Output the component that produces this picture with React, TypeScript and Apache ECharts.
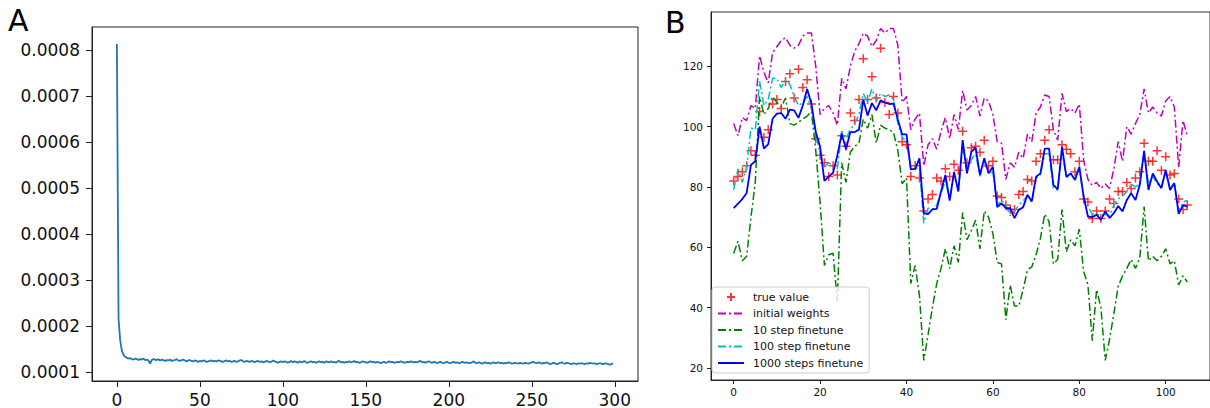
import React, { useEffect, useRef } from "react";
import * as echarts from "echarts";

// Panel A: training loss, in units of 1e-6
const lossMicro = [
  813, 215, 168, 146, 137, 133, 131, 129, 130, 128,
  127, 129, 128, 126, 128, 127, 129, 126, 127, 125,
  118, 126, 128, 127, 126, 128, 125, 127, 126, 124,
  126, 125, 127, 124, 125, 126, 128, 125, 124, 126,
  127, 125, 123, 125, 126, 124, 123, 125, 124, 122,
  124, 123, 125, 124, 122, 123, 124, 125, 123, 124,
  123, 125, 124, 123, 122, 124, 125, 123, 124, 122,
  123, 124, 122, 123, 125, 126, 123, 122, 124, 123,
  122, 124, 123, 121, 123, 124, 122, 123, 121, 122,
  124, 123, 121, 122, 125, 123, 122, 120, 122, 123,
  121, 123, 122, 120, 122, 124, 121, 123, 122, 120,
  123, 121, 122, 124, 121, 120, 122, 123, 121, 122,
  120, 122, 123, 121, 122, 120, 123, 122, 121, 123,
  121, 122, 120, 123, 124, 121, 122, 120, 122, 121,
  123, 121, 122, 124, 121, 122, 120, 121, 123, 122,
  121, 120, 122, 123, 121, 122, 120, 122, 121, 119,
  121, 122, 120, 121, 123, 121, 122, 120, 121, 122,
  121, 123, 122, 120, 121, 122, 121, 123, 122, 121,
  122, 121, 123, 124, 121, 122, 120, 122, 123, 121,
  120, 122, 121, 119, 121, 122, 120, 119, 121, 122,
  120, 119, 121, 122, 120, 121, 119, 120, 122, 121,
  120, 121, 119, 120, 121, 123, 120, 119, 121, 120,
  118, 120, 121, 119, 120, 118, 120, 121, 119, 120,
  121, 119, 120, 118, 120, 119, 121, 120, 118, 119,
  120, 119, 118, 120, 119, 118, 120, 119, 118, 120,
  121, 122, 120, 119, 121, 120, 118, 120, 119, 121,
  119, 117, 118, 120, 119, 117, 118, 120, 121, 119,
  118, 120, 119, 118, 117, 119, 118, 117, 119, 118,
  119, 118, 117, 119, 118, 120, 119, 118, 119, 117,
  118, 119, 118, 117, 118, 119, 117, 116, 117, 119,
];
const lossTicksX = [0, 50, 100, 150, 200, 250, 300];
const lossTicksY = [0.0001, 0.0002, 0.0003, 0.0004, 0.0005, 0.0006, 0.0007, 0.0008];

// Panel B
const trueValue = [
  82, 83.5, 85, 87, 92, 90.5, 105, 96.5, 99, 107.5,
  109, 106, 115, 117.5, 109.5, 119, 113, 115.5, 107.5, 96,
  90.5, 88, 83.5, 87, 84, 97, 93.5, 104.5, 102, 109,
  122.5, 109, 116.5, 109.5, 126, 108, 104, 110, 104.5, 95,
  94, 83.5, 87, 83, 72, 76, 77.5, 83, 82, 86,
  83.5, 87.5, 85.5, 98.5, 88, 93, 93.5, 91.5, 95.5, 87,
  88.5, 77, 76.5, 74, 72.5, 72.5, 77.5, 78.5, 82.5, 82,
  88.5, 91, 95.5, 99, 89, 89, 94, 92.5, 91, 85,
  88.5, 76, 75, 69.5, 72, 69.5, 72, 76, 74.5, 78.5,
  78.5, 81.5, 79.5, 83, 85, 94.5, 88.5, 88.5, 92, 85.5,
  90, 84, 84.5, 76, 72.5, 74,
];
const initialWeights = [
  101, 97, 103, 102, 107, 106, 123.5, 118, 114.5, 124.5,
  126.5, 128.5, 129.5, 127, 126, 127, 130, 131, 131, 120,
  104, 106, 107, 104.5, 100.5, 116, 112.5, 120, 125, 127.5,
  131, 130, 126.5, 128.5, 132.5, 131, 132.5, 132.5, 127, 108,
  110, 99, 102.5, 104.5, 87, 94, 96, 92.5, 98.5, 103,
  96, 104, 99, 112, 105.5, 107, 110, 103.5, 109.5, 108.5,
  104, 95, 94.5, 82.5, 88, 86.5, 91.5, 89.5, 97.5, 95,
  104.5, 106.5, 110.5, 110, 99, 95.5, 111, 105, 106, 104.5,
  107.5, 89, 82.5, 80.5, 81.5, 79.5, 81, 79.5, 86, 95,
  88.5, 100, 97.5, 101, 104, 112.5, 104.5, 106.5, 104.5, 103.5,
  108.5, 110, 106.5, 86.5, 102, 97,
];
const step10 = [
  58, 62, 55.5, 57, 70, 81.5, 110, 104, 106, 110,
  108, 106.5, 109.5, 101, 100.5, 101.5, 102.5, 103.5, 105, 92,
  75, 54, 57.5, 58, 42, 88, 81.5, 91.5, 93.5, 94.5,
  102.5, 99.5, 104, 94.5, 100.5, 99.5, 99, 98, 92, 81,
  83, 48, 54, 44, 22.5, 31, 40, 48, 53, 59.5,
  53, 60.5, 55, 71.5, 62.5, 65.5, 69, 59.5, 72, 70,
  64.5, 55, 54.5, 36, 47.5, 40.5, 40.5, 46, 52.5, 53.5,
  57.5, 63, 71, 68.5, 54.5, 56, 72.5, 58.5, 62.5, 60.5,
  66, 52, 47.5, 29, 46, 40, 22.5, 29.5, 38, 47,
  50.5, 53, 56, 53, 56.5, 73.5, 55.5, 57, 55.5, 57,
  59.5, 54.5, 55.5, 47.5, 50.5, 48.5,
];
const step100 = [
  79, 86, 81.5, 86.5, 99.5, 99, 115, 107, 109, 116,
  116, 113, 115.5, 114, 110, 107, 108, 110, 106, 97.5,
  91, 86.5, 88, 87, 86, 98.5, 96, 99, 101, 104,
  111, 108, 112.5, 108.5, 111, 110, 110.5, 109, 101, 96.5,
  95, 86, 86, 86.5, 68, 73, 72.5, 74, 78, 82,
  76, 84, 79, 93, 85.5, 89, 91, 83.5, 88.5, 84.5,
  85, 74, 75.5, 74, 70.5, 72, 74, 75.5, 77, 75,
  83, 84, 91, 91, 79.5, 79, 92, 83, 84.5, 83,
  86, 76.5, 73.5, 71, 71, 70.5, 71, 70.5, 74, 76,
  77, 78.5, 81, 80, 81, 91.5, 81, 83.5, 81, 80,
  85, 79.5, 81.5, 72, 75, 75.5,
];
const step1000 = [
  73, 74.5, 76, 78, 87.3, 88.5, 100, 92.7, 94.2, 102.6,
  104.3, 104.5, 102.6, 105.6, 105.4, 102.9, 107, 112.5, 107.6, 98.2,
  93.3, 82, 83.4, 84.7, 90.5, 97.7, 92.5, 98.2, 98.2, 99,
  108.9, 103.7, 107.8, 105.4, 108.7, 108, 107.5, 107.6, 102.4, 97.4,
  97.4, 85.8, 86, 89.5, 71.3, 71, 72.6, 72.7, 78.5, 84,
  75.5, 85, 78.5, 95.5, 84.5, 91.6, 93, 84, 89.5, 84.5,
  86.7, 73.3, 74.6, 73, 73, 69.7, 72.4, 73.3, 77.4, 75.2,
  83.4, 84.5, 92.7, 92.7, 80.7, 79.2, 93.3, 83.4, 84.5, 82.3,
  86.7, 76.8, 70.2, 70, 70.8, 69.1, 71.9, 69.7, 71.3, 73.7,
  71.9, 75.7, 77.9, 75.7, 80.7, 92, 79, 84.5, 81.8, 79.6,
  85.6, 79, 81.2, 71.1, 74, 73.5,
];
const seriesNames = ["true value", "initial weights", "10 step finetune", "100 step finetune", "1000 steps finetune"];
const bTicksX = [0, 20, 40, 60, 80, 100];
const bTicksY = [20, 40, 60, 80, 100, 120];

const FONT = "DejaVu Sans";
const PLUS = "path://M0,5L10,5M5,0L5,10";
const DASHDOT = [8, 3, 2, 3];

export default function App() {
  const ref = useRef<HTMLDivElement>(null);
  useEffect(() => {
    if (!ref.current) return;
    const chart = echarts.init(ref.current, undefined, { renderer: "svg" });
    const loss = lossMicro.map((v) => v / 1e6);
    const idx = (arr: number[]) => arr.map((v, i) => [i, v]);

    const axisCommon = (fontSize: number, tickLen: number, margin: number) => ({
      axisLine: { show: true, onZero: false, lineStyle: { color: "#222", width: 1 } },
      axisTick: { show: true, length: tickLen, lineStyle: { color: "#222", width: 1 } },
      splitLine: { show: false },
      axisLabel: { color: "#111", fontFamily: FONT, fontSize, margin },
    });

    const ax = axisCommon(17, 6, 10);
    const ay = axisCommon(17, 6, 12);
    const bx = axisCommon(10.5, 4, 6);
    const by = axisCommon(10.5, 4, 8);

    chart.setOption({
      animation: false,
      backgroundColor: "#fff",
      grid: [
        { left: 92, top: 27, width: 546, height: 354, show: true, borderColor: "#222", borderWidth: 1, containLabel: false },
        { left: 711, top: 12, width: 503, height: 368, show: true, borderColor: "#333", borderWidth: 1, containLabel: false },
      ],
      xAxis: [
        {
          type: "value", gridIndex: 0, min: -15, max: 314,
          ...ax,
          axisTick: { ...ax.axisTick, customValues: lossTicksX },
          axisLabel: { ...ax.axisLabel, customValues: lossTicksX },
        },
        {
          type: "value", gridIndex: 1, min: -5.25, max: 110.25,
          ...bx,
          axisTick: { ...bx.axisTick, customValues: bTicksX },
          axisLabel: { ...bx.axisLabel, customValues: bTicksX },
        },
      ],
      yAxis: [
        {
          type: "value", gridIndex: 0, min: 0.0000804, max: 0.00085,
          ...ay,
          axisTick: { ...ay.axisTick, customValues: lossTicksY },
          axisLabel: { ...ay.axisLabel, customValues: lossTicksY, formatter: (v: number) => v.toFixed(4) },
        },
        {
          type: "value", gridIndex: 1, min: 16, max: 138,
          ...by,
          axisTick: { ...by.axisTick, customValues: bTicksY },
          axisLabel: { ...by.axisLabel, customValues: bTicksY },
        },
      ],
      legend: {
        data: [
          { name: seriesNames[0] },
          { name: seriesNames[1], itemStyle: { opacity: 0 } },
          { name: seriesNames[2], itemStyle: { opacity: 0 } },
          { name: seriesNames[3], itemStyle: { opacity: 0 } },
          { name: seriesNames[4], itemStyle: { opacity: 0 } },
        ],
        orient: "vertical",
        left: 712,
        top: 287,
        padding: [3, 6, 3, 5],
        itemWidth: 26,
        itemHeight: 8,
        itemGap: 2.5,
        backgroundColor: "rgba(255,255,255,0.8)",
        borderColor: "#ccc",
        borderWidth: 1,
        borderRadius: 3,
        textStyle: { fontFamily: FONT, fontSize: 11, color: "#111", lineHeight: 14, padding: [0, 0, 0, 4] },
      },
      graphic: [
        { type: "text", left: 8, top: 5, style: { text: "A", fontSize: 30, fontFamily: FONT, fill: "#000" } },
        { type: "text", left: 665, top: 7, style: { text: "B", fontSize: 30, fontFamily: FONT, fill: "#000" } },
      ],
      series: [
        {
          type: "line", name: "loss", xAxisIndex: 0, yAxisIndex: 0, data: idx(loss),
          symbol: "none", showSymbol: false, lineStyle: { color: "#1f77b4", width: 1.8 },
        },
        {
          type: "scatter", name: seriesNames[0], xAxisIndex: 1, yAxisIndex: 1, data: idx(trueValue),
          symbol: PLUS, symbolSize: 9,
          itemStyle: { color: "rgba(0,0,0,0)", borderColor: "#ff0000", borderWidth: 1.5 },
        },
        {
          type: "line", name: seriesNames[1], xAxisIndex: 1, yAxisIndex: 1, data: idx(initialWeights),
          symbol: "none", showSymbol: false, itemStyle: { color: "#bf00bf" },
          lineStyle: { color: "#bf00bf", width: 1.5, type: DASHDOT },
        },
        {
          type: "line", name: seriesNames[2], xAxisIndex: 1, yAxisIndex: 1, data: idx(step10),
          symbol: "none", showSymbol: false, itemStyle: { color: "#008000" },
          lineStyle: { color: "#008000", width: 1.5, type: DASHDOT },
        },
        {
          type: "line", name: seriesNames[3], xAxisIndex: 1, yAxisIndex: 1, data: idx(step100),
          symbol: "none", showSymbol: false, itemStyle: { color: "#00bfbf" },
          lineStyle: { color: "#00bfbf", width: 1.5, type: DASHDOT },
        },
        {
          type: "line", name: seriesNames[4], xAxisIndex: 1, yAxisIndex: 1, data: idx(step1000),
          symbol: "none", showSymbol: false, itemStyle: { color: "#0000ff" },
          lineStyle: { color: "#0000ff", width: 1.8 },
        },
      ],
    });
    return () => chart.dispose();
  }, []);
  return (
    <div
      ref={ref}
      style={{ position: "fixed", left: 0, top: 0, width: 1210, height: 408, background: "#fff" }}
    />
  );
}
